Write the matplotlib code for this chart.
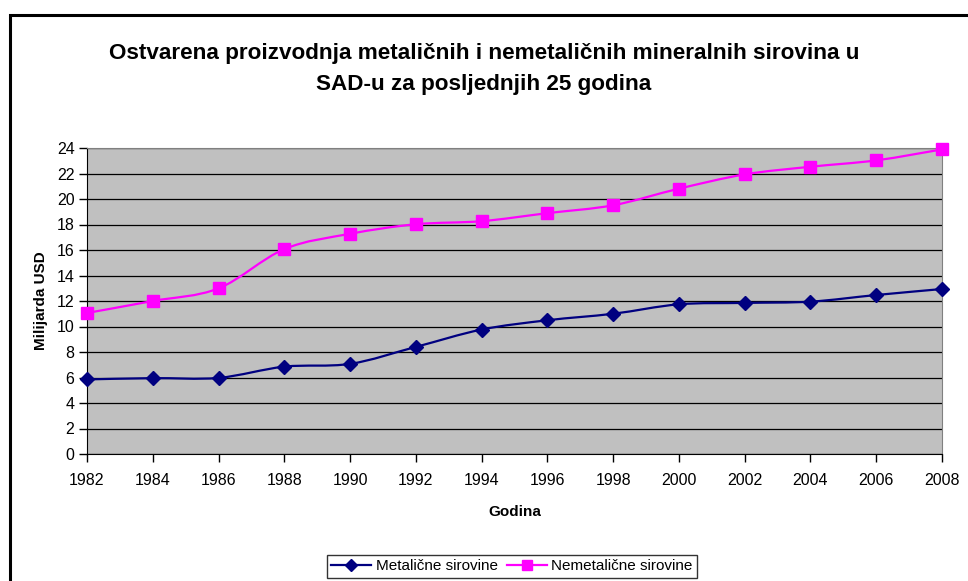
import matplotlib

matplotlib.use("Agg")
import matplotlib.pyplot as plt
from matplotlib.lines import Line2D
from matplotlib.patches import PathPatch, Rectangle
from matplotlib.path import Path

plt.rcParams["font.family"] = ["Liberation Sans", "DejaVu Sans"]

years = [1982, 1984, 1986, 1988, 1990, 1992, 1994, 1996, 1998, 2000, 2002, 2004, 2006, 2008]
metalicne = [5.85, 5.95, 5.97, 6.85, 7.07, 8.4, 9.76, 10.49, 11.0, 11.74, 11.85, 11.95, 12.47, 12.94]
nemetalicne = [11.06, 12.0, 12.99, 16.07, 17.27, 18.02, 18.26, 18.89, 19.51, 20.81, 21.93, 22.53, 23.03, 23.89]
y_ticks = list(range(0, 25, 2))

TITLE = "Ostvarena proizvodnja metaličnih i nemetaličnih mineralnih sirovina u\nSAD-u za posljednjih 25 godina"
NAVY = "#000080"
MAGENTA = "#FF00FF"


def smooth_path(xs, ys):
    # bezier segments through every point, like excel's smoothed line
    verts = [(xs[0], ys[0])]
    codes = [Path.MOVETO]
    n = len(xs)
    for i in range(n - 1):
        x0, y0 = (xs[i - 1], ys[i - 1]) if i > 0 else (xs[i], ys[i])
        x3, y3 = (xs[i + 2], ys[i + 2]) if i + 2 < n else (xs[i + 1], ys[i + 1])
        c1 = (xs[i] + (xs[i + 1] - x0) / 6, ys[i] + (ys[i + 1] - y0) / 6)
        c2 = (xs[i + 1] - (x3 - xs[i]) / 6, ys[i + 1] - (y3 - ys[i]) / 6)
        verts += [c1, c2, (xs[i + 1], ys[i + 1])]
        codes += [Path.CURVE4] * 3
    return Path(verts, codes)


fig = plt.figure(figsize=(9.68, 5.81), dpi=100)
fig.patches.append(
    Rectangle((10 / 968, -0.1), 1.1, 1 - 15 / 581 + 0.1, transform=fig.transFigure,
              fill=False, edgecolor="black", linewidth=2.2)
)

ax = fig.add_axes([87 / 968, 1 - 454 / 581, (942 - 87) / 968, (454 - 148) / 581])
ax.set_facecolor("#C0C0C0")
ax.set_xlim(years[0], years[-1])
ax.set_ylim(0, 24)
ax.set_xticks(years)
ax.set_yticks(y_ticks)
ax.grid(axis="y", color="black", linewidth=0.9)
ax.set_axisbelow(True)
for side in ["top", "right"]:
    ax.spines[side].set_color("#808080")
for side in ["left", "bottom"]:
    ax.spines[side].set_color("black")
ax.tick_params(direction="out", length=6, width=1, labelsize=11.5)
ax.tick_params(axis="x", pad=8)
ax.tick_params(axis="y", pad=3)

for vals, color, marker, size in [
    (metalicne, NAVY, "D", 7),
    (nemetalicne, MAGENTA, "s", 8),
]:
    ax.add_patch(PathPatch(smooth_path(years, vals), facecolor="none", edgecolor=color,
                           linewidth=1.6, zorder=3))
    ax.plot(years, vals, linestyle="none", marker=marker, markersize=size, color=color,
            zorder=4, clip_on=False)

ax.set_xlabel("Godina", fontsize=11, fontweight="bold", labelpad=12)
ax.set_ylabel("Milijarda USD", fontsize=11, fontweight="bold", labelpad=6)
fig.text(0.5, 1 - 69 / 581, TITLE, ha="center", va="center", fontsize=16.2,
         fontweight="bold", linespacing=1.6)

handles = [
    Line2D([], [], color=NAVY, marker="D", markersize=6, linewidth=1.6),
    Line2D([], [], color=MAGENTA, marker="s", markersize=7, linewidth=1.6),
]
leg = fig.legend(handles, ["Metalične sirovine", "Nemetalične sirovine"], ncol=2,
                 loc="upper center", bbox_to_anchor=(512 / 968, 1 - 547 / 581),
                 frameon=True, fancybox=False, fontsize=11, handlelength=2.6,
                 handletextpad=0.3, columnspacing=0.6, borderpad=0.3)
leg.get_frame().set_edgecolor("black")
leg.get_frame().set_linewidth(1.0)

fig.savefig("out.png", dpi=100)
